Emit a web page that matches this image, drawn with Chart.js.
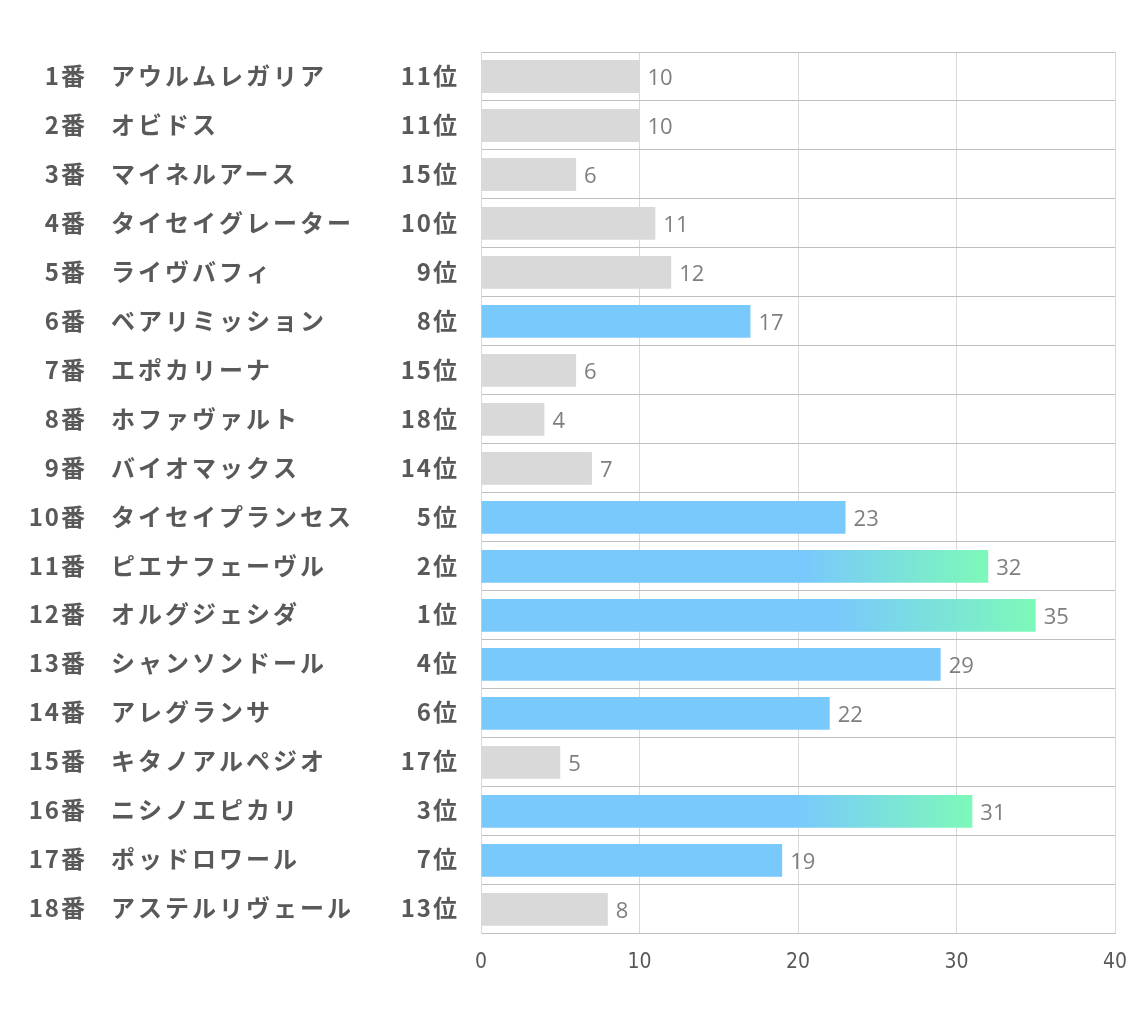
<!DOCTYPE html>
<html>
<head>
<meta charset="utf-8">
<script src="https://cdn.jsdelivr.net/npm/chart.js@4.4.1/dist/chart.umd.min.js"></script>
<style>
html,body{margin:0;padding:0;background:#fff;}
#wrap{width:1134px;height:1020px;position:relative;}
</style>
</head>
<body>
<div id="wrap"><canvas id="c" width="1134" height="1020"></canvas></div>
<script>
const horseNumbers = ["1番","2番","3番","4番","5番","6番","7番","8番","9番","10番","11番","12番","13番","14番","15番","16番","17番","18番"];
const horseNames = ["アウルムレガリア","オビドス","マイネルアース","タイセイグレーター","ライヴバフィ","ベアリミッション","エポカリーナ","ホファヴァルト","バイオマックス","タイセイプランセス","ピエナフェーヴル","オルグジェシダ","シャンソンドール","アレグランサ","キタノアルペジオ","ニシノエピカリ","ポッドロワール","アステルリヴェール"];
const ranks = [11,11,15,10,9,8,15,18,14,5,2,1,4,6,17,3,7,13];
const scores = [10,10,6,11,12,17,6,4,7,23,32,35,29,22,5,31,19,8];
const xTicks = [0,10,20,30,40];

const GRAY = '#D9D9D9', BLUE = '#79C9FC', GREEN = '#7DF9B9';

function barColor(ctx){
  const i = ctx.dataIndex;
  const r = ranks[i];
  if (r > 8) return GRAY;
  if (r > 3) return BLUE;
  const chart = ctx.chart;
  if (!chart.chartArea) return BLUE;
  const xs = chart.scales.x;
  const x0 = xs.getPixelForValue(0), x1 = xs.getPixelForValue(scores[i]);
  const g = chart.ctx.createLinearGradient(x0, 0, x1, 0);
  g.addColorStop(0, BLUE);
  g.addColorStop(0.64, BLUE);
  g.addColorStop(1, GREEN);
  return g;
}

const FONT = '"Noto Sans CJK JP", "Noto Sans", sans-serif';

const sidePlugin = {
  id: 'side',
  afterDatasetsDraw(chart){
    const c = chart.ctx, ys = chart.scales.y;
    const meta = chart.getDatasetMeta(0);
    c.save();
    c.textBaseline = 'middle';
    c.font = 'bold 24px ' + FONT;
    c.fillStyle = '#595959';
    horseNumbers.forEach((n, i) => {
      const y = ys.getPixelForTick(i) - 1;
      c.letterSpacing = '2px';
      c.textAlign = 'right';
      c.fillText(n, 87, y);
      c.fillText(ranks[i] + '位', 459, y);
      c.letterSpacing = '3px';
      c.textAlign = 'left';
      c.fillText(horseNames[i], 111, y);
    });
    c.letterSpacing = '0px';
    c.font = '22px "Open Sans", "Noto Sans", sans-serif';
    c.fillStyle = '#7F7F7F';
    c.textAlign = 'left';
    meta.data.forEach((bar, i) => {
      c.fillText(String(scores[i]), bar.x + 8, bar.y + 2);
    });
    c.restore();
  }
};

new Chart(document.getElementById('c'), {
  type: 'bar',
  data: {
    labels: horseNumbers,
    datasets: [{
      data: scores,
      backgroundColor: barColor,
      borderWidth: 0,
      barPercentage: 0.67,
      categoryPercentage: 1
    }]
  },
  options: {
    indexAxis: 'y',
    responsive: false,
    animation: false,
    devicePixelRatio: 1,
    layout: { padding: { left: 481, top: 52, right: 19, bottom: 45 } },
    plugins: { legend: { display: false }, tooltip: { enabled: false } },
    scales: {
      x: {
        min: 0, max: 40,
        afterBuildTicks(s){ s.ticks = xTicks.map(v => ({value: v})); },
        grid: { color: '#D9D9D9', drawTicks: true, tickLength: 16, tickColor: 'rgba(0,0,0,0)' },
        border: { display: true, color: '#BFBFBF' },
        ticks: { color: '#595959', padding: 0, font: { size: 21, family: '"Liberation Sans Narrow", "DejaVu Sans Condensed", sans-serif' } }
      },
      y: {
        grid: { color: '#BFBFBF', drawTicks: false, offset: true },
        border: { display: true, color: '#D9D9D9' },
        ticks: { display: false }
      }
    }
  },
  plugins: [sidePlugin]
});
</script>
</body>
</html>
